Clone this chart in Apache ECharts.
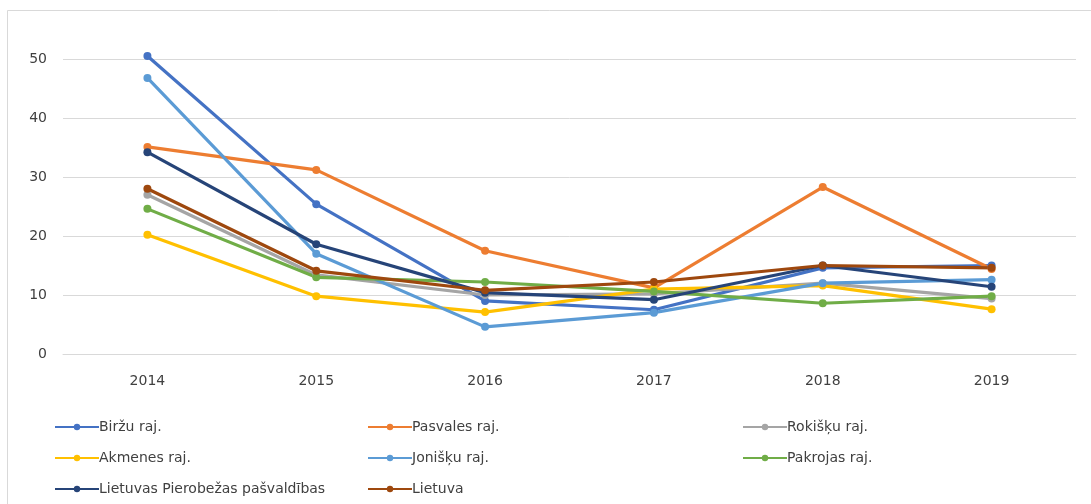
<!DOCTYPE html>
<html>
<head>
<meta charset="utf-8">
<script src="https://cdn.jsdelivr.net/npm/echarts@6/dist/echarts.min.js"></script>
<style>
  html, body { margin: 0; padding: 0; background: #fff; }
  #chart { width: 1091px; height: 504px; }
</style>
</head>
<body>
<div id="chart"></div>
<script>
// years on the x axis
const years = ['2014', '2015', '2016', '2017', '2018', '2019']

// values per municipality
const birzu = [50.5, 25.4, 9.0, 7.5, 14.6, 15.0]
const pasvales = [35.1, 31.2, 17.5, 11.2, 28.3, 14.4]
const rokisku = [27.0, 13.4, 10.0, 10.2, 12.0, 9.4]
const akmenes = [20.2, 9.8, 7.1, 11.0, 11.6, 7.6]
const jonisku = [46.8, 17.0, 4.6, 7.0, 12.0, 12.6]
const pakrojas = [24.6, 13.0, 12.2, 10.6, 8.6, 9.8]
const pierobezas = [34.2, 18.6, 10.4, 9.2, 15.0, 11.4]
const lietuva = [28.0, 14.1, 10.8, 12.2, 15.0, 14.6]

const yTicks = [0, 10, 20, 30, 40, 50]

const textColor = '#404040'
const font = 'DejaVu Sans, Verdana, sans-serif'

function line(name, data, color) {
  return {
    name: name,
    type: 'line',
    data: data,
    symbol: 'circle',
    symbolSize: 8,
    clip: false,
    itemStyle: { color: color },
    lineStyle: { color: color, width: 3.2 }
  }
}

// same order as the legend reads left to right
const series = [
  line('Biržu raj.', birzu, '#4472C4'),
  line('Pasvales raj.', pasvales, '#ED7D31'),
  line('Rokišķu raj.', rokisku, '#A5A5A5'),
  line('Akmenes raj.', akmenes, '#FFC000'),
  line('Jonišķu raj.', jonisku, '#5B9BD5'),
  line('Pakrojas raj.', pakrojas, '#70AD47'),
  line('Lietuvas Pierobežas pašvaldības', pierobezas, '#264478'),
  line('Lietuva', lietuva, '#9E480E')
]

function legendCol(left, names) {
  return {
    orient: 'vertical',
    left: left,
    top: 415,
    itemWidth: 44,
    itemHeight: 8,
    itemGap: 17,
    data: names,
    textStyle: { color: textColor, fontSize: 14, fontFamily: font, padding: [0, 0, 0, -5] }
  }
}

const chart = echarts.init(document.getElementById('chart'))
chart.setOption({
  animation: false,
  backgroundColor: '#fff',
  graphic: [{
    type: 'rect',
    shape: { x: 7.5, y: 10.5, width: 1200, height: 600 },
    style: { fill: 'none', stroke: '#d9d9d9', lineWidth: 1 },
    silent: true
  }],
  grid: { left: 63, right: 15, top: 59, bottom: 150 },
  legend: [
    legendCol(49, [series[0].name, series[3].name, series[6].name]),
    legendCol(362, [series[1].name, series[4].name, series[7].name]),
    legendCol(737, [series[2].name, series[5].name])
  ],
  xAxis: {
    type: 'category',
    data: years,
    boundaryGap: true,
    axisLine: { lineStyle: { color: '#d9d9d9' } },
    axisTick: { show: false },
    axisLabel: { color: textColor, fontSize: 14, fontFamily: font, margin: 20 }
  },
  yAxis: {
    type: 'value',
    min: yTicks[0],
    max: yTicks[yTicks.length - 1],
    interval: 10,
    axisLine: { show: false },
    axisTick: { show: false },
    splitLine: { lineStyle: { color: '#d9d9d9' } },
    axisLabel: { color: textColor, fontSize: 14, fontFamily: font, margin: 16 }
  },
  series: series
})
</script>
</body>
</html>
